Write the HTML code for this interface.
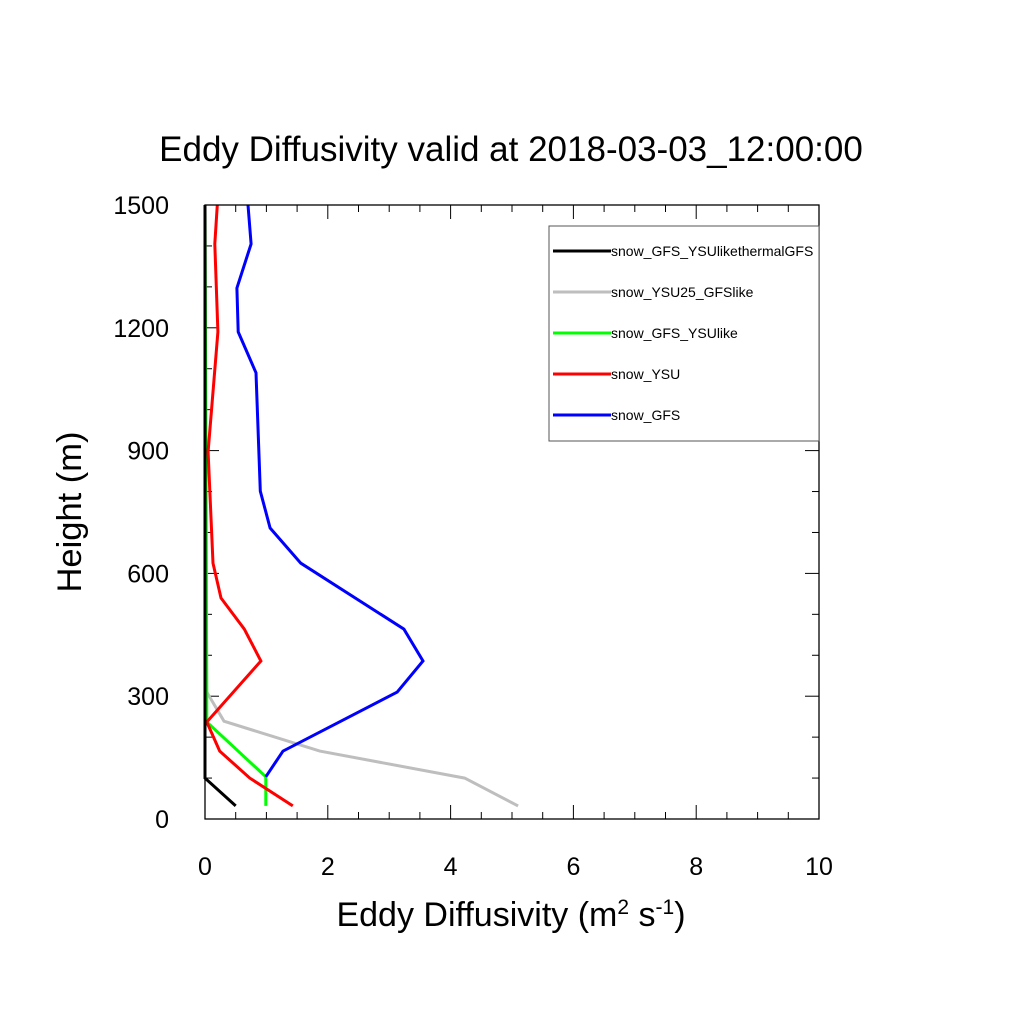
<!DOCTYPE html>
<html><head><meta charset="utf-8"><style>
html,body{margin:0;padding:0;background:#fff;}
svg{display:block;font-family:"Liberation Sans",sans-serif;}
</style></head><body>
<svg id="chart" width="1024" height="1024" viewBox="0 0 1024 1024">
<text x="511" y="161" font-size="35" text-anchor="middle">Eddy Diffusivity valid at 2018-03-03_12:00:00</text>
<text x="511" y="926" font-size="34" text-anchor="middle">Eddy Diffusivity (m<tspan dy="-12" font-size="21">2</tspan><tspan dy="12"> s</tspan><tspan dy="-12" font-size="21">-1</tspan><tspan dy="12">)</tspan></text>
<text transform="translate(81,512) rotate(-90)" font-size="34.5" text-anchor="middle">Height (m)</text>
<g id="ticks"></g>
<g id="series"></g>
<rect x="205" y="205" width="614" height="614" fill="none" stroke="#000" stroke-width="1.3"/>
<g id="legend"></g>
</svg>
<script>
const xTicks=[0,2,4,6,8,10];
const yTicks=[0,300,600,900,1200,1500];
const seriesNames=["snow_GFS_YSUlikethermalGFS","snow_YSU25_GFSlike","snow_GFS_YSUlike","snow_YSU","snow_GFS"];
const seriesColors=["#000000","#bebebe","#00ff00","#ff0000","#0000ff"];
const blackX=[0,0,0.5];
const blackH=[1500,100,32];
const grayX=[0,0.03,0.31,1.87,4.23,5.10];
const grayH=[1500,310,239,166,100,32];
const greenX=[0,0.03,0.99,0.99];
const greenH=[1500,237,103,32];
const redX=[0.20,0.16,0.21,0.05,0.13,0.26,0.64,0.91,0.03,0.24,0.73,1.43];
const redH=[1500,1405,1190,897,625,540,464,386,237,166,100,32];
const blueX=[0.70,0.75,0.52,0.54,0.83,0.90,1.06,1.56,3.24,3.55,3.13,1.27,0.99];
const blueH=[1500,1405,1297,1190,1090,801,711,625,464,386,310,166,103];

const NS="http://www.w3.org/2000/svg";
const X0=205,X1=819,Y0=819,Y1=205;
function sx(v){return X0+(v-0)/(10-0)*(X1-X0);}
function sy(v){return Y0-(v-0)/(1500-0)*(Y0-Y1);}
function mk(tag,attrs,parent){const e=document.createElementNS(NS,tag);for(const k in attrs)e.setAttribute(k,attrs[k]);parent.appendChild(e);return e;}
const tg=document.getElementById('ticks');
for(let v=0;v<=10.001;v+=0.5){
  const major=Math.abs(v/2-Math.round(v/2))<1e-6;const L=major?14:7;const x=sx(v);
  const t1=mk('line',{x1:x,x2:x,y1:Y0,y2:Y0-L,stroke:'#000','stroke-width':1},tg);
  
  
  const t2=mk('line',{x1:x,x2:x,y1:Y1,y2:Y1+L,stroke:'#000','stroke-width':1},tg);
  
  
}
for(let v=0;v<=1500;v+=100){
  const major=v%300===0;const L=major?14:7;const y=sy(v);
  const t1=mk('line',{x1:X0,x2:X0+L,y1:y,y2:y,stroke:'#000','stroke-width':1},tg);
  
  
  const t2=mk('line',{x1:X1,x2:X1-L,y1:y,y2:y,stroke:'#000','stroke-width':1},tg);
  
  
}
xTicks.forEach(v=>{const t=mk('text',{x:sx(v),y:875,'font-size':25,'text-anchor':'middle'},tg);t.textContent=v;
  
  });
yTicks.forEach(v=>{const t=mk('text',{x:169,y:sy(v)+9,'font-size':25,'text-anchor':'end'},tg);t.textContent=v;
  
  });
const sg=document.getElementById('series');
const data=[[blackX,blackH],[grayX,grayH],[greenX,greenH],[redX,redH],[blueX,blueH]];
const order=[1,2,3,4,0];
order.forEach(i=>{const [xs,hs]=data[i];
  const pts=xs.map((v,j)=>sx(v).toFixed(1)+','+sy(hs[j]).toFixed(1)).join(' ');
  const p=mk('polyline',{points:pts,fill:'none',stroke:seriesColors[i],'stroke-width':3,'stroke-linejoin':'miter'},sg);
  
  
});
const lg=document.getElementById('legend');
const box=mk('rect',{x:549,y:226,width:270,height:215,fill:'#fff',stroke:'#555','stroke-width':1},lg);


seriesNames.forEach((n,i)=>{const y=251+i*41;
  const l=mk('line',{x1:553,x2:611,y1:y,y2:y,stroke:seriesColors[i],'stroke-width':3},lg);
  
  
  const t=mk('text',{x:611,y:y+5,'font-size':14},lg);t.textContent=n;
  
  
});
</script>
</body></html>
